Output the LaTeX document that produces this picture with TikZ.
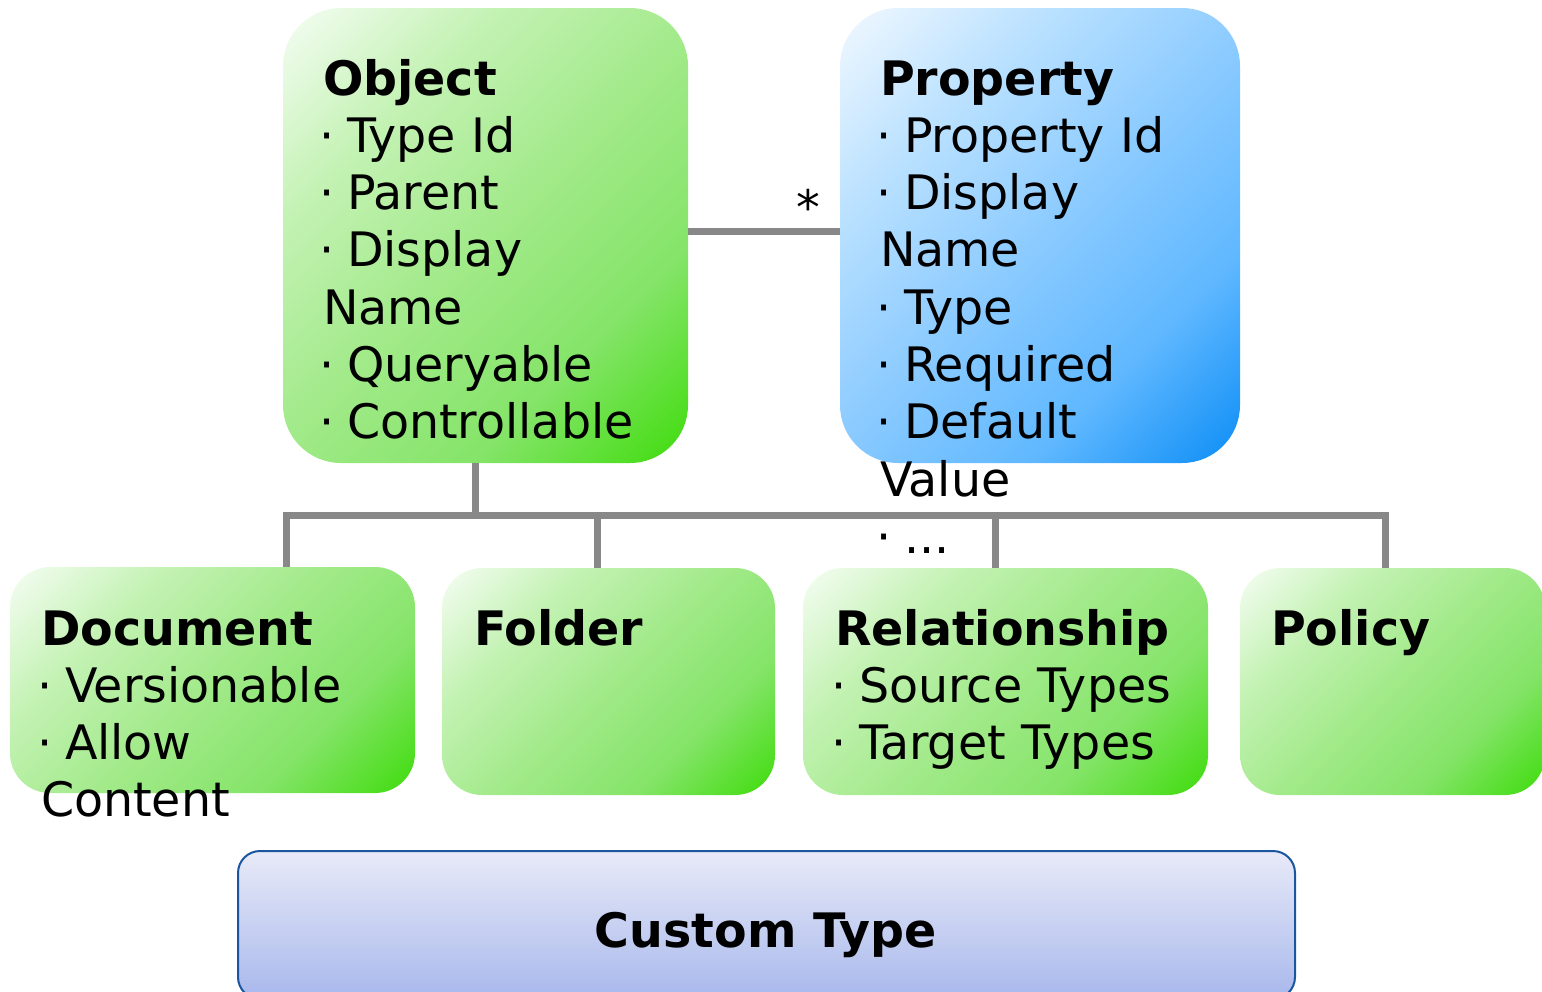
\documentclass[tikz,border=0pt]{standalone}
\usepackage{fontspec}
\setmainfont{DejaVu Sans}
\usepackage{tikz}
\usetikzlibrary{positioning}

\definecolor{ctop}{HTML}{E8EAF8}
\definecolor{cbot}{HTML}{A8B8EC}
\definecolor{cline}{HTML}{1A56A0}
\definecolor{linkgray}{HTML}{888888}

\pgfdeclareverticalshading{greenfade}{100bp}{color(0bp)=(rgb,255:red,64;green,220;blue,14); color(15bp)=(rgb,255:red,64;green,220;blue,14); color(32bp)=(rgb,255:red,132;green,228;blue,104); color(50bp)=(rgb,255:red,162;green,234;blue,138); color(68bp)=(rgb,255:red,196;green,242;blue,180); color(85bp)=(rgb,255:red,244;green,253;blue,242); color(100bp)=(rgb,255:red,244;green,253;blue,242)}
\pgfdeclareverticalshading{bluefade}{100bp}{color(0bp)=(rgb,255:red,14;green,142;blue,246); color(15bp)=(rgb,255:red,14;green,142;blue,246); color(32bp)=(rgb,255:red,96;green,184;blue,255); color(50bp)=(rgb,255:red,140;green,203;blue,255); color(68bp)=(rgb,255:red,186;green,225;blue,255); color(85bp)=(rgb,255:red,240;green,248;blue,255); color(100bp)=(rgb,255:red,240;green,248;blue,255)}

\newcommand\boxfont{\fontsize{47.5}{57.3}\selectfont}
\newcommand\itm{\makebox[24pt][l]{\hspace{-3.5pt}·}}
\newcommand\firstline{\rule{0pt}{40pt}}

\begin{document}
\begin{tikzpicture}[x=1pt,y=-1pt,
        greenbox/.style={inner sep=0pt,rounded corners=#1,shading=greenfade,shading angle=45},
        bluebox/.style={inner sep=0pt,rounded corners=#1,shading=bluefade,shading angle=45},
        typebox/.style={inner sep=0pt,rounded corners=22pt,top color=ctop,bottom color=cbot,draw=cline,line width=2pt},
        txt/.style={anchor=north west,inner sep=0pt,align=left,font=\boxfont},
        link/.style={draw=linkgray,line width=7pt}]

    \useasboundingbox (0,0) rectangle (1542,991);

    \node[greenbox=58pt,minimum width=405pt,minimum height=455pt] (object) at (485.5,235.5) {};
    \node[bluebox=58pt,minimum width=400pt,minimum height=455pt] (property) at (1040,235.5) {};
    \node[greenbox=40pt,minimum width=405pt,minimum height=226pt] (document) at (212.5,680) {};
    \node[greenbox=40pt,minimum width=333pt,minimum height=227pt] (folder) at (608.5,681.5) {};
    \node[greenbox=40pt,minimum width=405pt,minimum height=227pt] (relationship) at (1005.5,681.5) {};
    \node[greenbox=40pt,minimum width=305pt,minimum height=227pt] (policy) at (1392.5,681.5) {};
    \node[typebox,minimum width=1057pt,minimum height=148pt] (customtype) at (766.5,925) {};

    \draw[link] ([yshift=4.5pt]object.east) -- ([yshift=4.5pt]property.west)
        node[pos=0.79,anchor=base,inner sep=0pt,yshift=7pt,font=\boxfont] (many) {*};

    \draw[link] ([xshift=-10.5pt]object.south) -- ++(0,52) coordinate (bus);
    \foreach \b/\dx in {document/73.5,folder/-11.5,relationship/-10.5,policy/-7.5}
        \draw[link] ([xshift=\dx pt]\b.north) -- ++(0,-53) coordinate (\b top);
    \draw[link,line cap=rect] (bus -| documenttop) -- (bus -| policytop);

    \node[txt] (objecttext) at ([shift={(40,47)}]object.north west)
        {\firstline\textbf{Object}\\ \itm Type Id\\ \itm Parent\\ \itm Display\\ Name\\ \itm Queryable\\ \itm Controllable};
    \node[txt] (propertytext) at ([shift={(40,47)}]property.north west)
        {\firstline\textbf{Property}\\ \itm Property Id\\ \itm Display\\ Name\\ \itm Type\\ \itm Required\\ \itm Default\\ Value\\ \itm ...};
    \node[txt] (documenttext) at ([shift={(31,38)}]document.north west)
        {\firstline\textbf{Document}\\ \itm Versionable\\ \itm Allow\\ Content};
    \node[txt] (foldertext) at ([shift={(32,37)}]folder.north west)
        {\firstline\textbf{Folder}};
    \node[txt] (relationshiptext) at ([shift={(32,37)}]relationship.north west)
        {\firstline\textbf{Relationship}\\ \itm Source Types\\ \itm Target Types};
    \node[txt] (policytext) at ([shift={(31,37)}]policy.north west)
        {\firstline\textbf{Policy}};
    \node[anchor=base,inner sep=0pt,font=\boxfont] (customtext) at (766,947) {\textbf{Custom Type}};
\end{tikzpicture}
\end{document}
